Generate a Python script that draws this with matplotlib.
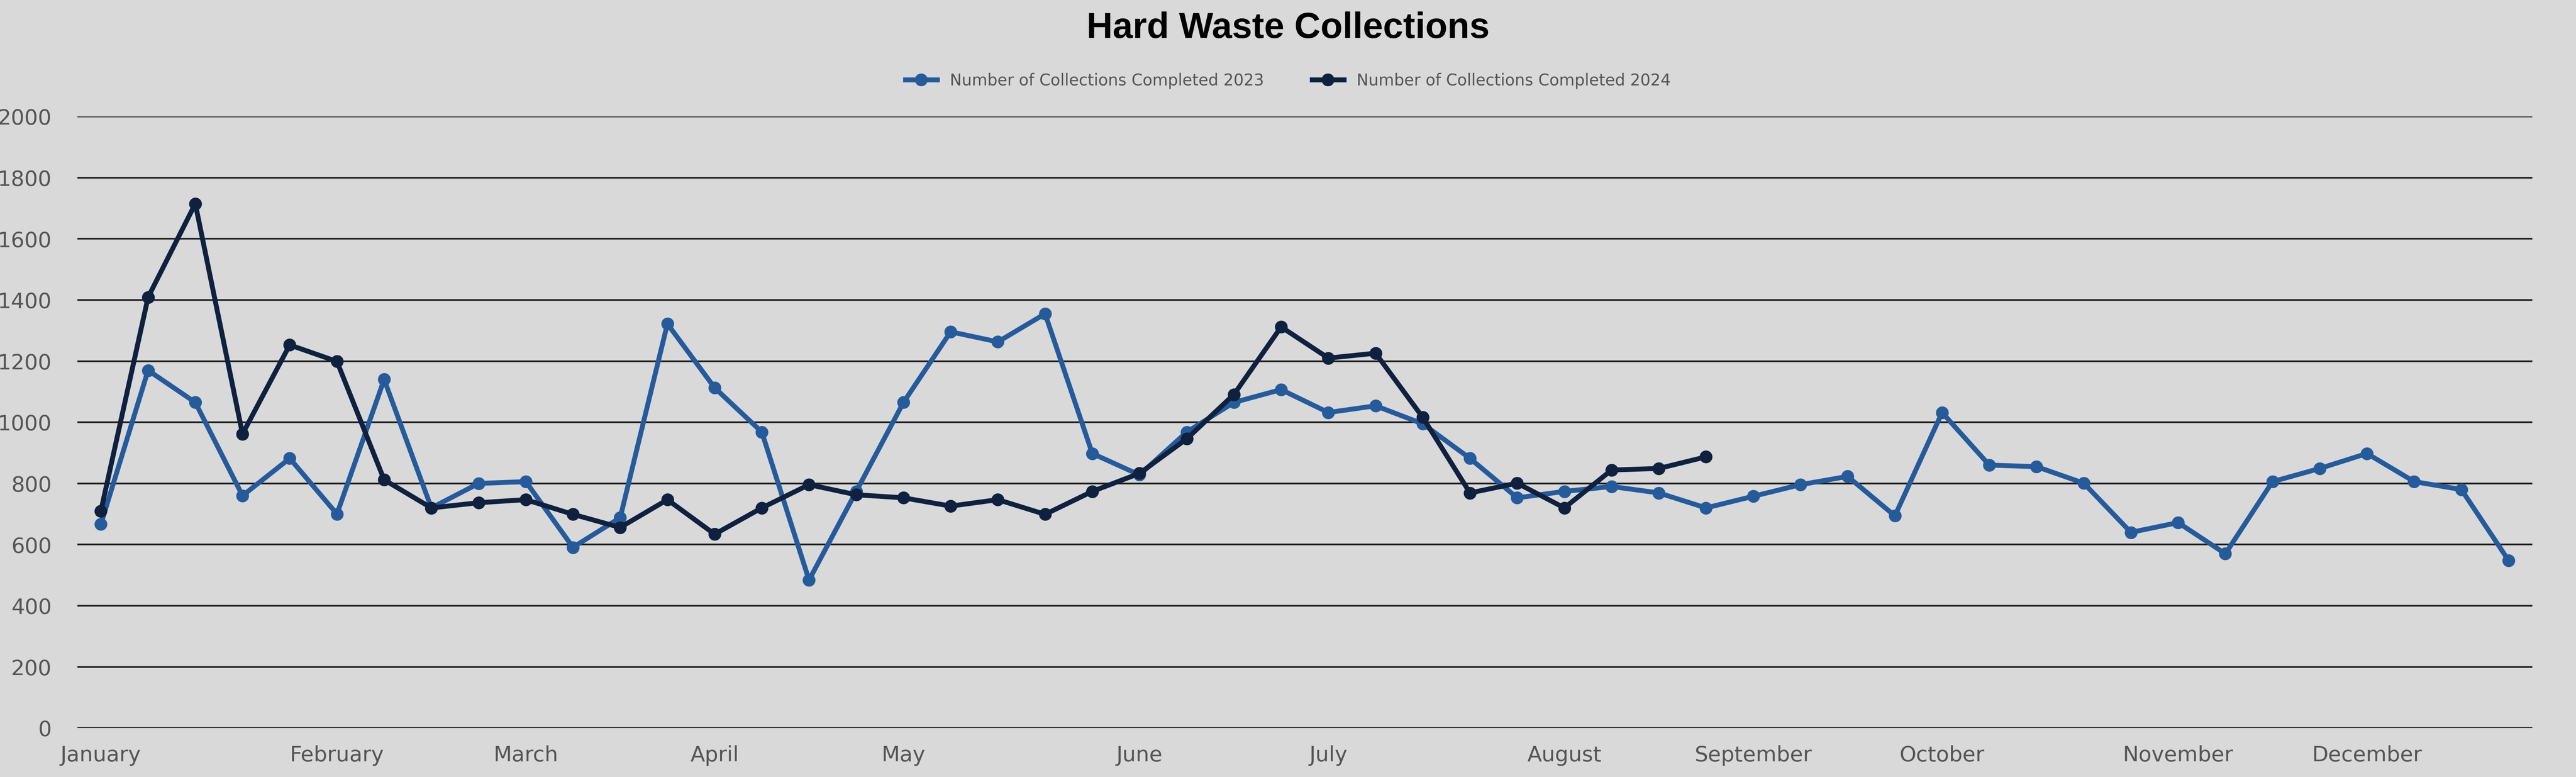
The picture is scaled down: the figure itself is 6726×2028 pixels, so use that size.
import matplotlib
matplotlib.use("Agg")
import matplotlib.pyplot as plt

weeks = list(range(52))
series_2023 = [667,1170,1065,760,882,700,1140,720,800,806,591,688,1322,1113,968,484,774,1065,1296,1263,1355,898,828,968,1065,1107,1032,1054,995,882,753,774,790,769,720,758,796,823,694,1032,860,855,801,640,672,570,806,849,898,806,780,548]
series_2024 = [710,1409,1715,962,1253,1199,812,720,737,747,699,656,747,634,720,796,763,753,726,747,699,774,833,946,1091,1312,1210,1226,1016,769,801,720,844,849,887]
month_labels = ["January","February","March","April","May","June","July","August","September","October","November","December"]
month_pos = [0,5,9,13,17,22,26,31,35,39,44,48]
y_ticks = [0,200,400,600,800,1000,1200,1400,1600,1800,2000]

bg = "#d9d9d9"
fig = plt.figure(figsize=(16.815, 5.07), dpi=400, facecolor=bg)
ax = fig.add_axes([0.030, 0.063, 0.953, 0.787], facecolor=bg)
ax.plot(weeks, series_2023, color="#265b9b", lw=2.3, marker="o", ms=5, label="Number of Collections Completed 2023")
ax.plot(weeks[:len(series_2024)], series_2024, color="#0f213f", lw=2.3, marker="o", ms=5, label="Number of Collections Completed 2024")
ax.set_xlim(-0.5, 51.5)
ax.set_ylim(0, 2000)
ax.set_yticks(y_ticks)
ax.set_xticks(month_pos)
ax.set_xticklabels(month_labels)
ax.grid(axis="y", color="#222222", lw=0.8)
ax.set_axisbelow(True)
for s in ax.spines.values():
    s.set_visible(False)
ax.tick_params(length=0, labelsize=10, colors="#555555", pad=8)
ax.tick_params(axis="y", pad=12)
fig.suptitle("Hard Waste Collections", y=0.985, fontsize=17, fontweight="bold", family="Liberation Sans")
fig.legend(loc="upper center", bbox_to_anchor=(0.5, 0.925), ncol=2, frameon=False, fontsize=7.5,
           labelcolor="#555555", handlelength=2, columnspacing=3)
fig.savefig("out.png", dpi=400, facecolor=bg)
